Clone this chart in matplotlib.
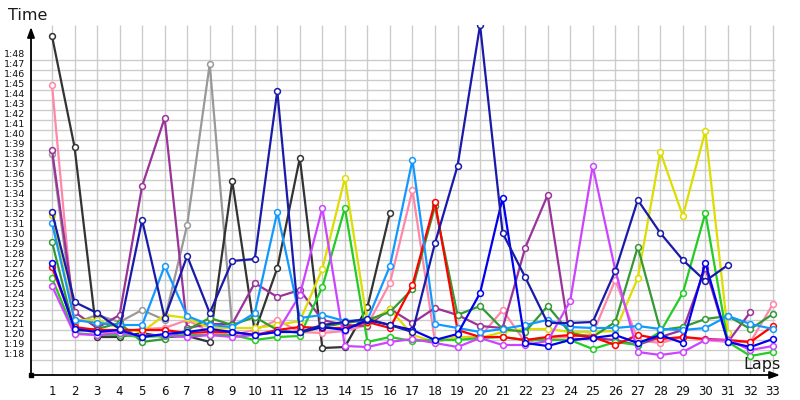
import matplotlib
matplotlib.use("Agg")
import matplotlib.pyplot as plt
import numpy as np

# lap times in seconds (e.g. 80.5 = 1:20.5)
laps = list(range(1, 34))
ytick_vals = list(range(78, 109))
ytick_labels = [f"{v // 60}:{v % 60:02d}" for v in ytick_vals]

black = [109.9, 98.8, 79.8, 79.8, 80.2, 79.8, 79.9, 79.3, 95.4, 80.3, 86.7, 97.7, 78.7, 78.8, 82.8, 92.2]
gray = [98.1, 81.2, 82.0, 81.3, 82.5, 81.5, 91.0, 107.1, 80.8]
pink = [105.0, 80.5, 80.3, 80.3, 80.6, 80.7, 81.5, 80.3, 80.0, 80.5, 81.5, 80.3, 80.2, 80.4, 81.0, 85.2, 94.5,
        79.3, 79.8, 79.8, 82.5, 79.3, 79.7, 79.8, 80.1, 85.5, 79.5, 79.2, 79.8, 79.5, 79.3, 79.3, 83.1]
purple = [98.5, 82.3, 80.7, 82.0, 94.9, 101.7, 80.7, 81.1, 81.1, 85.2, 83.8, 84.5, 81.5, 81.0, 80.9, 82.6, 81.2,
          82.7, 82.0, 80.9, 80.7, 88.7, 94.0, 79.5, 79.7, 79.5, 79.0, 79.8, 80.5, 86.7, 79.3, 82.3]
navy = [92.3, 83.3, 82.2, 80.6, 91.5, 81.7, 87.9, 82.2, 87.4, 87.6, 104.4, 80.3, 81.0, 81.3, 81.6, 81.0, 80.3,
        89.2, 96.9, 111.0, 90.2, 85.8, 81.2, 81.2, 81.3, 86.4, 93.5, 90.2, 87.5, 85.4, 87.0]
blue = [87.2, 80.6, 80.3, 80.5, 79.8, 80.1, 80.3, 80.6, 80.3, 80.0, 80.3, 80.3, 80.8, 80.5, 81.5, 81.0, 80.5,
        79.5, 80.1, 84.2, 93.7, 79.2, 78.9, 79.5, 79.7, 80.0, 79.2, 80.0, 79.2, 87.2, 79.3, 78.8, 79.6]
lightblue = [91.2, 81.5, 81.2, 81.0, 81.0, 86.9, 81.9, 81.0, 80.8, 82.2, 92.3, 81.7, 82.0, 81.4, 81.5, 86.9, 97.5,
             81.1, 80.7, 80.3, 80.6, 81.0, 81.5, 80.8, 80.7, 80.7, 80.9, 80.6, 80.5, 80.7, 81.9, 81.1, 80.6]
yellow = [92.0, 81.5, 81.5, 80.7, 80.3, 82.0, 81.7, 80.7, 80.7, 80.7, 81.0, 81.4, 86.6, 95.7, 81.2, 82.6, 80.0,
          79.3, 79.8, 79.7, 80.3, 80.6, 80.6, 80.3, 80.3, 80.4, 85.7, 98.3, 91.9, 100.4, 80.2]
darkgreen = [89.3, 80.4, 80.6, 81.2, 79.3, 79.6, 80.5, 81.7, 81.0, 81.8, 80.5, 80.2, 80.8, 81.2, 81.5, 82.3, 84.6,
             92.9, 82.0, 82.9, 80.6, 80.3, 82.9, 80.2, 79.8, 81.3, 88.8, 80.5, 80.8, 81.6, 81.9, 80.6, 82.1]
brightgreen = [85.7, 80.2, 80.0, 80.0, 79.8, 79.9, 80.0, 80.0, 80.0, 79.5, 79.8, 79.9, 84.8, 92.7, 79.3, 79.8, 79.4,
               79.5, 79.5, 79.7, 79.8, 79.5, 79.5, 79.5, 78.6, 79.3, 79.0, 80.3, 84.2, 92.2, 79.3, 77.9, 78.3]
red = [86.8, 80.8, 80.5, 80.5, 80.5, 80.5, 80.2, 80.3, 80.3, 80.0, 80.5, 80.8, 80.7, 80.7, 81.3, 80.7, 85.0,
       93.3, 80.5, 79.8, 79.8, 79.5, 79.8, 80.0, 79.8, 79.0, 80.0, 79.6, 79.8, 79.6, 79.5, 79.3, 80.9]
violet = [84.9, 80.1, 80.0, 80.2, 79.9, 80.0, 79.8, 80.0, 79.8, 80.0, 80.3, 84.0, 92.7, 78.9, 78.8, 79.3, 79.6,
          79.2, 78.8, 79.7, 79.0, 79.0, 79.4, 83.4, 96.9, 86.5, 78.3, 78.0, 78.3, 79.5, 79.5, 78.5, 78.9]

series = [
    (gray, "#999999"),
    (black, "#333333"),
    (pink, "#ff88aa"),
    (purple, "#993399"),
    (yellow, "#dddd00"),
    (darkgreen, "#339933"),
    (brightgreen, "#22cc22"),
    (red, "#ff0000"),
    (violet, "#cc44ff"),
    (lightblue, "#1199ff"),
    (blue, "#0000ee"),
    (navy, "#1a1aaa"),
]

fig = plt.figure(figsize=(8, 4), dpi=100)
W, H = 800, 400
ax_l, ax_r, ax_t, ax_b = 31, 790, 25, 375
ax = fig.add_axes([ax_l / W, 1 - ax_b / H, (ax_r - ax_l) / W, (ax_b - ax_t) / H])

px_per_lap = 22.53
x0 = 1 - (52 - ax_l) / px_per_lap
x1 = 1 + (ax_r - 52) / px_per_lap
ax.set_xlim(x0, x1)
ax.set_ylim(76, 111)

for s in ax.spines.values():
    s.set_visible(False)

# grid
ax.vlines(laps, 76, 111, color="#cccccc", lw=1.0, zorder=0)
ax.hlines(np.arange(77.5, 108, 1.0), x0, 33.1, color="#cccccc", lw=1.0, zorder=0)

for vals, col in series:
    ax.plot(laps[:len(vals)], vals, color=col, lw=1.6, marker="o", ms=4.2,
            mfc="white", mec=col, mew=1.1, zorder=3, solid_joinstyle="round")

# ticks
ax.set_xticks(laps)
ax.set_xticklabels([str(l) for l in laps], fontsize=8.5, color="#111111")
ax.tick_params(axis="x", length=0, pad=7)
ax.set_yticks([])
for v, lab in zip(ytick_vals, ytick_labels):
    ax.text(-27 / (ax_r - ax_l), v, lab, transform=ax.get_yaxis_transform(),
            fontsize=6.8, ha="left", va="center", color="#111111")

# axes with arrows
ax.annotate("", xy=(0, (ax_b - 27) / (ax_b - ax_t)), xytext=(0, 0), xycoords="axes fraction",
            arrowprops=dict(arrowstyle="-|>,head_length=0.6,head_width=0.22", color="black", lw=1.3,
                            shrinkA=0, shrinkB=0), annotation_clip=False)
ax.annotate("", xy=((780 - ax_l) / (ax_r - ax_l), 0), xytext=(0, 0), xycoords="axes fraction",
            arrowprops=dict(arrowstyle="-|>,head_length=0.6,head_width=0.22", color="black", lw=1.3,
                            shrinkA=0, shrinkB=0), annotation_clip=False)
ax.plot([0], [0], marker="s", ms=3, color="black", transform=ax.transAxes, clip_on=False, zorder=5)

fig.text(8 / W, 1 - 15 / H, "Time", fontsize=11.5, ha="left", va="center", color="#1a1a1a")
fig.text(743 / W, 1 - 364 / H, "Laps", fontsize=11.5, ha="left", va="center", color="#1a1a1a")

fig.savefig("out.png", dpi=100)
